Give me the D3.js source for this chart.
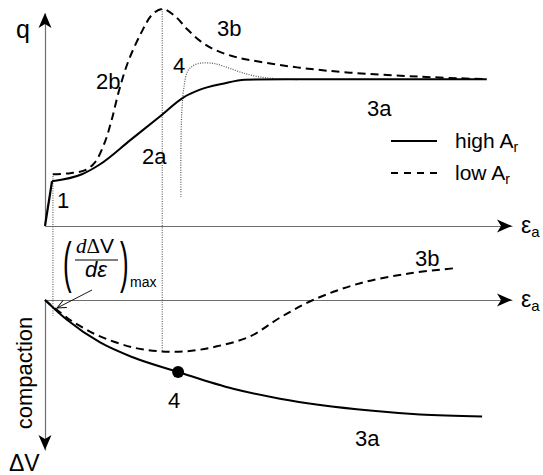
<!DOCTYPE html>
<html>
<head>
<meta charset="utf-8">
<script src="https://cdn.jsdelivr.net/npm/d3@7"></script>
<style>
  html, body { margin: 0; padding: 0; background: #fff; }
  svg { display: block; }
  text { font-family: "Liberation Sans", Arial, sans-serif; fill: #000; }
</style>
</head>
<body>
<svg id="chart" width="543" height="475"></svg>
<script>
// Axial strain (domain units, 0..100) and responses for the two aspect ratios.
// Upper panel: deviator stress q. Lower panel: volume change ΔV (compaction positive, downward).

// elastic start shared by both curves
const elasticStrain = [0, 1.5];
const elasticQ      = [0, 21.0];

// high A_r : stress path (2a -> 3a)
const highStrain = [1.5, 7.9, 11.8, 18.2, 24.6, 29.6, 33.2, 38.1, 42.8, 54.6, 94.6];
const highQ      = [21.0, 24.3, 29.0, 40.2, 51.4, 60.3, 64.0, 66.8, 68.7, 68.9, 68.9];

// low A_r : stress path (2b -> peak -> 3b)
const lowStrain = [1.7, 5.4, 8.6, 10.7, 12.8, 14.3, 15.8, 17.8, 20.6, 22.9, 25.1, 27.8, 30.4, 33.2, 36.4, 40.7, 46.0, 54.6, 65.3, 80.3, 94.6];
const lowQ      = [24.3, 24.8, 26.2, 29.9, 39.3, 50.0, 63.1, 77.1, 90.7, 99.1, 101.9, 98.6, 92.5, 86.9, 82.7, 79.4, 77.1, 74.3, 72.0, 70.1, 68.9];

// transitional path at stage 4
const stage4Strain = [29.1, 29.1, 29.3, 29.8, 30.6, 32.1, 34.0, 36.4, 39.2, 42.2, 45.6, 49.3, 54.0];
const stage4Q      = [13.6, 36.0, 53.7, 65.9, 72.9, 75.7, 76.6, 76.2, 74.3, 72.0, 70.1, 69.2, 68.7];

// volume change, high A_r (continued compaction, 3a)
const highDvStrain = [0, 4.7, 11.8, 18.8, 28.5, 40.3, 50.3, 69.6, 80.3, 93.6];
const highDv       = [0, 13.2, 28.3, 38.2, 48.0, 59.2, 65.8, 73.7, 76.3, 77.6];

// volume change, low A_r (compaction then dilation, 3b)
const lowDvStrain = [0, 4.7, 8.1, 11.8, 18.8, 24.6, 30.4, 36.8, 43.9, 50.3, 57.4, 67.5, 78.2, 87.4];
const lowDv       = [0, 11.8, 18.4, 24.3, 31.6, 34.2, 34.2, 30.9, 24.3, 11.8, 0, -11.2, -17.8, -21.1];

// point 4 on the high A_r volume curve
const point4Strain = 28.5;
const point4Dv = 48.0;

// vertical guides: [strain, q at top end, ΔV at bottom end]
const guides = [[1.7, 24.6, 10.5], [25.1, 101.9, 34.2]];

const legendLabels = ["high A", "low A"];

const svg = d3.select("#chart");

const x   = d3.scaleLinear().domain([0, 100]).range([45, 512]);
const yQ  = d3.scaleLinear().domain([0, 100]).range([226, 13]);
const yDV = d3.scaleLinear().domain([0, 100]).range([300, 450]);

const axisColor = "#6e6e6e";

function styleAxis(g) {
  g.select(".domain").attr("stroke", axisColor).attr("stroke-width", 1.2);
}

// axes without ticks
svg.append("g").attr("transform", `translate(0,${yQ(0)})`)
  .call(d3.axisBottom(x).tickValues([]).tickSizeOuter(0)).call(styleAxis);
svg.append("g").attr("transform", `translate(${x(0)},0)`)
  .call(d3.axisLeft(yQ).tickValues([]).tickSizeOuter(0)).call(styleAxis);
svg.append("g").attr("transform", `translate(0,${yDV(0)})`)
  .call(d3.axisBottom(x).tickValues([]).tickSizeOuter(0)).call(styleAxis);
svg.append("g").attr("transform", `translate(${x(0)},0)`)
  .call(d3.axisLeft(yDV).tickValues([]).tickSizeOuter(0)).call(styleAxis);

// notched arrowheads
function arrowHead(tx, ty, angle) {
  const L = 15, w = 6.5, n = 4;
  const p = `M0,0 L${-L},${-w} L${-L + n},0 L${-L},${w} Z`;
  svg.append("path").attr("d", p).attr("fill", "#000")
    .attr("transform", `translate(${tx},${ty}) rotate(${angle})`);
}
arrowHead(x(100), yQ(0), 0);
arrowHead(x(0), yQ(100), -90);
arrowHead(x(100), yDV(0), 0);
arrowHead(x(0), yDV(100), 90);

// vertical dotted guides
guides.forEach(([s, qTop, dvBot]) => {
  svg.append("line")
    .attr("x1", x(s)).attr("x2", x(s))
    .attr("y1", yQ(qTop)).attr("y2", yDV(dvBot))
    .attr("stroke", "#444").attr("stroke-width", 1)
    .attr("stroke-dasharray", "1,1.4");
});

function pts(xs, ys) { return xs.map((v, i) => [v, ys[i]]); }

const lineQ = d3.line().x(d => x(d[0])).y(d => yQ(d[1]));
const lineDV = d3.line().x(d => x(d[0])).y(d => yDV(d[1]));

// stage 4 transitional path (thin dotted)
svg.append("path")
  .attr("d", lineQ.curve(d3.curveCatmullRom.alpha(0.5))(pts(stage4Strain, stage4Q)))
  .attr("fill", "none").attr("stroke", "#555").attr("stroke-width", 1.2)
  .attr("stroke-dasharray", "1,1.4");

// elastic part
svg.append("path")
  .attr("d", d3.line().x(d => x(d[0])).y(d => yQ(d[1]))(pts(elasticStrain, elasticQ)))
  .attr("fill", "none").attr("stroke", "#000").attr("stroke-width", 2.2);

// high A_r stress
svg.append("path")
  .attr("d", lineQ.curve(d3.curveMonotoneX)(pts(highStrain, highQ)))
  .attr("fill", "none").attr("stroke", "#000").attr("stroke-width", 2);

// low A_r stress
svg.append("path")
  .attr("d", lineQ.curve(d3.curveCatmullRom.alpha(0.5))(pts(lowStrain, lowQ)))
  .attr("fill", "none").attr("stroke", "#000").attr("stroke-width", 2)
  .attr("stroke-dasharray", "8,5");

// volume change curves
svg.append("path")
  .attr("d", lineDV.curve(d3.curveMonotoneX)(pts(highDvStrain, highDv)))
  .attr("fill", "none").attr("stroke", "#000").attr("stroke-width", 2);
svg.append("path")
  .attr("d", lineDV.curve(d3.curveCatmullRom.alpha(0.5))(pts(lowDvStrain, lowDv)))
  .attr("fill", "none").attr("stroke", "#000").attr("stroke-width", 2)
  .attr("stroke-dasharray", "8,5");

svg.append("circle")
  .attr("cx", x(point4Strain)).attr("cy", yDV(point4Dv)).attr("r", 6)
  .attr("fill", "#000");

// labels
function label(t, px, py, size) {
  return svg.append("text").attr("x", px).attr("y", py)
    .attr("font-size", size || 22).text(t);
}
label("q", 16, 38, 25);
label("1", 57, 208);
label("2b", 96, 89);
label("2a", 142, 164);
label("4", 173, 73);
label("3b", 217, 36);
label("3a", 367, 116);
label("3b", 415, 266);
label("3a", 355, 446);
label("4", 168, 408);

function epsLabel(px, py) {
  const t = svg.append("text").attr("x", px).attr("y", py).attr("font-size", 23);
  t.append("tspan").text("ε");
  t.append("tspan").attr("font-size", 15).attr("dy", 4).text("a");
}
epsLabel(521, 233);
epsLabel(521, 307);

svg.append("text").attr("x", 9).attr("y", 471).attr("font-size", 23).text("ΔV");
svg.append("text")
  .attr("transform", "translate(32,373) rotate(-90)")
  .attr("text-anchor", "middle").attr("font-size", 22).text("compaction");

// legend
const legY = [141, 173];
legendLabels.forEach((lab, i) => {
  svg.append("line").attr("x1", 391).attr("x2", 437)
    .attr("y1", legY[i]).attr("y2", legY[i])
    .attr("stroke", "#000").attr("stroke-width", 2)
    .attr("stroke-dasharray", i === 0 ? null : "7,6");
  const t = svg.append("text").attr("x", 455).attr("y", legY[i] + 7).attr("font-size", 21);
  t.append("tspan").text(lab);
  t.append("tspan").attr("font-size", 14).attr("dy", 4).text("r");
});

// maximum dilatancy-rate annotation
const serif = '"Liberation Serif", "Times New Roman", serif';
svg.append("text").attr("transform", "translate(63,281) scale(0.7,1.5)")
  .attr("font-family", serif).attr("font-size", 37).text("(");
svg.append("text").attr("transform", "translate(120,281) scale(0.7,1.5)")
  .attr("font-family", serif).attr("font-size", 37).text(")");
const num = svg.append("text").attr("x", 76).attr("y", 253).attr("font-size", 21);
num.append("tspan").attr("font-family", serif).attr("font-style", "italic").text("d");
num.append("tspan").attr("font-family", serif).text("Δ");
num.append("tspan").text("V");
svg.append("line").attr("x1", 75).attr("x2", 118).attr("y1", 260).attr("y2", 260)
  .attr("stroke", "#000").attr("stroke-width", 1);
svg.append("text").attr("x", 85).attr("y", 277).attr("font-size", 22)
  .attr("font-family", serif).attr("font-style", "italic").text("dε");
svg.append("text").attr("x", 130).attr("y", 287).attr("font-size", 14).text("max");

// pointer to initial slope
svg.append("line").attr("x1", 92).attr("y1", 290).attr("x2", 57).attr("y2", 308)
  .attr("stroke", "#000").attr("stroke-width", 0.9);
svg.append("path").attr("d", "M-9,-4 L0,0 L-9,4")
  .attr("fill", "none").attr("stroke", "#000").attr("stroke-width", 0.9)
  .attr("transform", `translate(57,308) rotate(${Math.atan2(308 - 290, 57 - 92) * 180 / Math.PI})`);
</script>
</body>
</html>
